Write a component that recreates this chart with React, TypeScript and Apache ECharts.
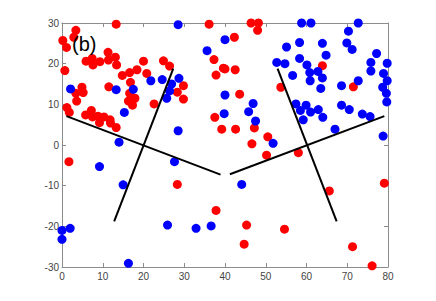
import React, { useEffect, useRef } from "react";
import * as echarts from "echarts";

const xTicks = { min: 0, max: 80, interval: 10 };
const yTicks = { min: -30, max: 30, interval: 10 };

const redPoints: number[][] = [
  [13.3, 29.7], [3.4, 28.2], [2.9, 26.5], [0.2, 25.7], [1.1, 24.0], [11.3, 22.8],
  [5.9, 20.6], [7.4, 21.3], [7.6, 19.7], [9.3, 20.5], [11.4, 20.9], [13.1, 21.6],
  [13.4, 19.7], [0.7, 18.3], [20.0, 20.6], [18.4, 18.5], [16.6, 17.8], [14.8, 17.1],
  [16.8, 15.4], [20.8, 17.6], [24.9, 20.7], [26.4, 19.4], [29.8, 14.6], [28.3, 13.0],
  [29.8, 11.3], [11.5, 14.3], [3.4, 12.7], [5.2, 12.9], [4.9, 14.2], [3.6, 10.8],
  [1.2, 9.2], [1.8, 8.0], [16.6, 12.7], [17.9, 11.5], [16.3, 10.8], [17.3, 9.8],
  [22.6, 10.1], [5.8, 7.4], [7.2, 8.5], [7.5, 6.9], [8.8, 7.1], [10.3, 6.9],
  [9.2, 5.5], [11.8, 6.2], [11.9, 5.4], [13.3, 4.3], [36.1, 29.7], [37.3, 21.0],
  [39.6, 18.9], [37.8, 17.2], [37.5, 6.8], [39.2, 3.9], [46.4, 30.0], [48.2, 30.0],
  [48.0, 28.2], [42.3, 26.5], [40.0, 18.7], [42.5, 18.5], [53.7, 14.2], [43.6, 12.5],
  [47.2, 4.2], [42.6, 3.9], [50.5, 2.0], [46.6, 0.3], [63.9, 19.5], [71.5, 14.3],
  [1.7, -4.1], [28.3, -9.7], [37.8, -16.1], [50.2, -2.5], [58.0, -1.9], [65.6, -11.3],
  [79.1, -9.4], [45.3, -19.7], [54.6, -20.7], [44.7, -24.4], [71.3, -25.0], [76.1, -29.7],
];

const bluePoints: number[][] = [
  [28.5, 29.6], [2.1, 13.8], [13.3, 13.6], [17.5, 13.7], [15.3, 8.0], [21.8, 15.8],
  [24.6, 16.1], [26.9, 15.0], [28.7, 16.4], [26.4, 13.3], [25.7, 11.5], [28.5, 3.5],
  [14.0, 0.7], [35.6, 23.2], [40.0, 25.9], [40.0, 12.3], [39.8, 7.7], [58.8, 30.0],
  [61.1, 30.0], [72.7, 30.0], [70.3, 28.0], [55.1, 24.1], [58.3, 25.2], [63.9, 25.0],
  [69.9, 25.1], [71.2, 23.5], [64.8, 22.1], [77.2, 22.5], [79.8, 20.1], [75.8, 20.3],
  [75.8, 18.2], [78.9, 17.6], [79.8, 15.8], [78.7, 14.2], [79.6, 12.7], [79.7, 10.6],
  [52.7, 20.3], [54.7, 20.0], [58.3, 21.3], [60.1, 19.7], [60.8, 17.8], [62.8, 18.1],
  [56.6, 17.1], [63.9, 16.5], [60.9, 15.8], [63.5, 13.9], [68.6, 14.6], [72.7, 15.8],
  [46.9, 10.2], [45.8, 8.2], [47.5, 5.9], [57.4, 10.1], [59.9, 9.8], [58.5, 8.5],
  [61.0, 8.1], [62.9, 8.7], [59.2, 6.2], [64.0, 6.8], [68.6, 9.8], [70.5, 8.7],
  [73.7, 7.6], [75.6, 7.0], [67.0, 3.9], [78.8, 2.2], [51.8, 0.4], [9.2, -5.3],
  [27.6, -4.1], [15.0, -9.8], [25.9, -19.7], [32.9, -20.5], [36.6, -19.9], [2.0, -20.5],
  [0.0, -21.0], [0.0, -23.2], [16.3, -29.1], [44.1, -9.7],
];

const segment1: number[][] = [[1.1, 7.1], [38.9, -7.3]];
const segment2: number[][] = [[12.8, -18.8], [27.3, 18.8]];
const segment3: number[][] = [[41.2, -7.2], [79.1, 7.1]];
const segment4: number[][] = [[52.9, 18.8], [67.4, -18.8]];
const segments = [segment1, segment2, segment3, segment4];

const panelLabel = "(b)";

export default function App() {
  const ref = useRef<HTMLDivElement>(null);
  useEffect(() => {
    if (!ref.current) return;
    const chart = echarts.init(ref.current, undefined, { renderer: "svg" });
    const axisColor = "#8c8c8c";
    const font = "'Liberation Sans', Arial, Helvetica, sans-serif";
    const baseX = {
      type: "value" as const,
      min: xTicks.min,
      max: xTicks.max,
      interval: xTicks.interval,
      splitLine: { show: false },
      axisLine: { show: true, onZero: false, lineStyle: { color: axisColor, width: 1 } },
      axisTick: { show: true, inside: true, length: 4, lineStyle: { color: axisColor } },
    };
    const baseY = {
      type: "value" as const,
      min: yTicks.min,
      max: yTicks.max,
      interval: yTicks.interval,
      splitLine: { show: false },
      axisLine: { show: true, onZero: false, lineStyle: { color: axisColor, width: 1 } },
      axisTick: { show: true, inside: true, length: 4, lineStyle: { color: axisColor } },
    };
    chart.setOption({
      animation: false,
      backgroundColor: "#ffffff",
      grid: { left: 62, right: 48, top: 23, bottom: 34, containLabel: false },
      xAxis: [
        {
          ...baseX,
          position: "bottom",
          axisLabel: { show: true, color: "#444", fontSize: 10, fontFamily: font, margin: 4 },
        },
        { ...baseX, position: "top", axisLabel: { show: false } },
      ],
      yAxis: [
        {
          ...baseY,
          position: "left",
          axisLabel: { show: true, color: "#444", fontSize: 10, fontFamily: font, margin: 3 },
        },
        { ...baseY, position: "right", axisLabel: { show: false } },
      ],
      graphic: [
        {
          type: "text",
          left: 72,
          top: 34,
          z: 100,
          style: { text: panelLabel, fontSize: 20, fontFamily: font, fill: "#000" },
        },
      ],
      series: [
        {
          type: "scatter",
          data: redPoints,
          symbolSize: 9,
          itemStyle: { color: "#ff0000", opacity: 1 },
          z: 2,
        },
        {
          type: "scatter",
          data: bluePoints,
          symbolSize: 9,
          itemStyle: { color: "#0000ff", opacity: 1 },
          z: 3,
        },
        ...segments.map((seg) => ({
          type: "line",
          data: seg,
          symbol: "none",
          lineStyle: { color: "#000", width: 2 },
          z: 5,
        })),
      ],
    });
    return () => chart.dispose();
  }, []);
  return (
    <div
      ref={ref}
      style={{ position: "fixed", left: 0, top: 0, width: 436, height: 301, background: "#fff" }}
    />
  );
}
